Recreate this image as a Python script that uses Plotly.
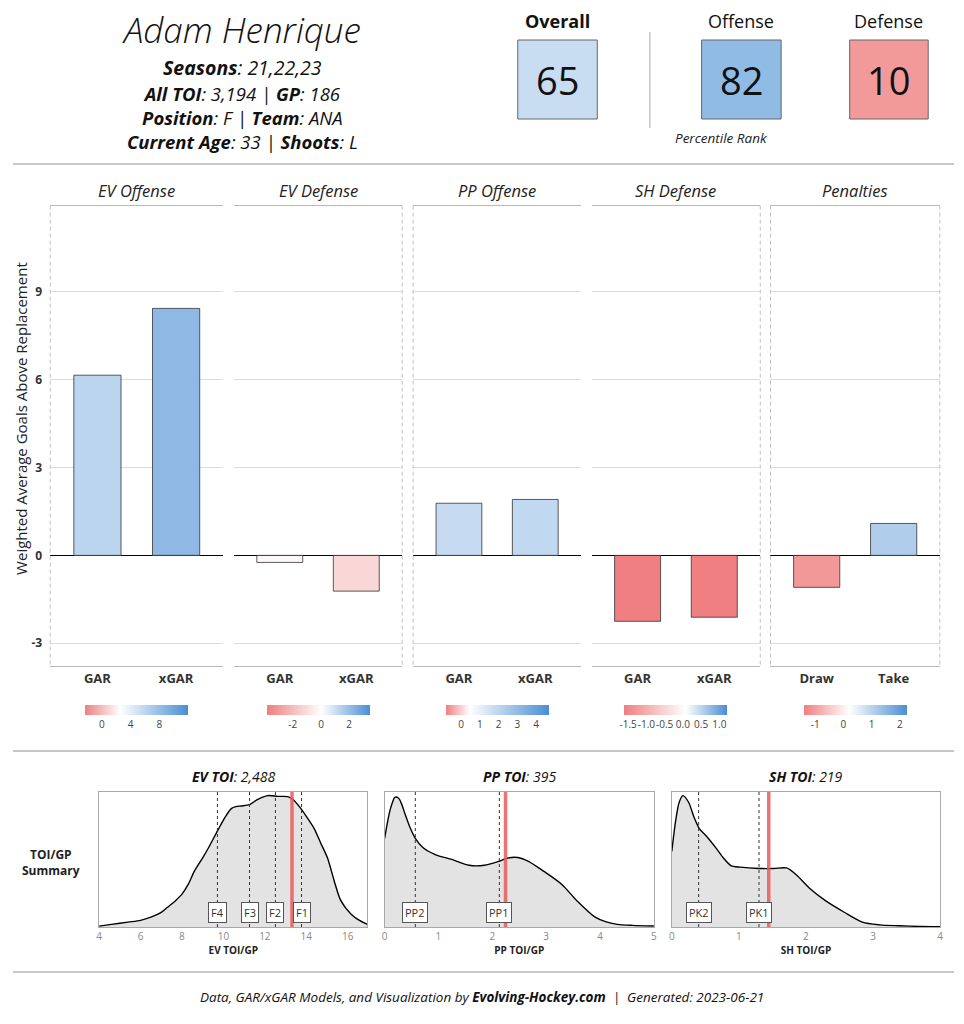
import plotly.graph_objects as go

W, H = 964, 1024
def X(px): return px / W
def Y(py): return 1 - py / H

FONT = "Open Sans"

# ---------------- data ----------------
player = "Adam Henrique"
seasons = "21,22,23"
all_toi = "3,194"
games = "186"
position = "F"
team = "ANA"
age = "33"
shoots = "L"

rank_labels = ["Overall", "Offense", "Defense"]
rank_values = [65, 82, 10]
rank_colors = ["#c8ddf2", "#8fbbe5", "#f29a9a"]

panel_titles = ["EV Offense", "EV Defense", "PP Offense", "SH Defense", "Penalties"]
panel_categories = [["GAR", "xGAR"], ["GAR", "xGAR"], ["GAR", "xGAR"], ["GAR", "xGAR"], ["Draw", "Take"]]
panel_values = [[6.15, 8.43], [-0.24, -1.22], [1.78, 1.91], [-2.25, -2.11], [-1.09, 1.09]]
legend_min = [-2.3, -3.86, -0.83, -1.6, -1.41]
legend_mid = [2.6, 0.0, 0.44, 0.09, 0.2]
legend_max = [12.04, 3.44, 4.67, 1.22, 2.24]
legend_ticks = [[0, 4, 8], [-2, 0, 2], [0, 1, 2, 3, 4], [-1.5, -1.0, -0.5, 0.0, 0.5, 1.0], [-1, 0, 1, 2]]
legend_ticktext = [["0", "4", "8"], ["-2", "0", "2"], ["0", "1", "2", "3", "4"],
                   ["-1.5", "-1.0", "-0.5", "0.0", "0.5", "1.0"], ["-1", "0", "1", "2"]]
gar_ticks = [-3, 0, 3, 6, 9]
gar_ticktext = ["-3", "0", "3", "6", "9"]

toi_titles = [("EV TOI", "2,488"), ("PP TOI", "395"), ("SH TOI", "219")]
toi_axis_titles = ["EV TOI/GP", "PP TOI/GP", "SH TOI/GP"]

ev_x = [4.0, 4.6, 5.4, 6.0, 6.5, 7.0, 7.3, 7.7, 8.0, 8.3, 8.6, 9.0, 9.26, 9.74, 10.1, 10.38, 10.6, 10.86, 11.26,
        11.66, 12.14, 12.62, 13.1, 13.34, 13.74, 14.05, 14.38, 14.7, 15.02, 15.34, 15.66, 16.14, 16.5, 16.95]
ev_d = [0.7, 2.0, 3.7, 5.0, 7.4, 11.0, 14.8, 20.0, 24.7, 32.0, 42.0, 52.0, 59.0, 73.0, 83.0, 89.0, 90.5, 91.0, 92.0,
        96.0, 98.8, 98.2, 98.0, 96.0, 89.0, 82.0, 74.0, 63.0, 52.0, 35.0, 20.0, 10.0, 5.5, 2.0]
ev_lines = [9.71, 11.26, 12.51, 13.77]
ev_line_labels = ["F4", "F3", "F2", "F1"]
ev_player = 13.31

pp_x = [0.0, 0.05, 0.09, 0.14, 0.19, 0.26, 0.32, 0.37, 0.47, 0.57, 0.71, 0.95, 1.23, 1.57, 1.85, 2.12, 2.29,
        2.47, 2.67, 2.95, 3.29, 3.57, 3.91, 4.1, 4.32, 4.6, 5.0]
pp_d = [66.7, 78.0, 86.0, 93.0, 97.5, 96.8, 92.0, 86.0, 75.0, 66.7, 59.8, 54.3, 51.0, 46.4, 46.4, 49.4, 51.9,
        52.3, 49.4, 42.0, 32.0, 19.8, 7.4, 4.0, 2.0, 1.2, 0.7]
pp_lines = [0.57, 2.13]
pp_line_labels = ["PP2", "PP1"]
pp_player = 2.245

sh_x = [0.0, 0.055, 0.11, 0.166, 0.25, 0.33, 0.41, 0.52, 0.66, 0.77, 0.88, 1.02, 1.3, 1.52, 1.71, 1.85, 2.07,
        2.29, 2.57, 2.84, 3.1, 3.39, 3.7, 4.0]
sh_d = [56.8, 79.0, 93.8, 98.8, 93.8, 82.7, 74.0, 68.0, 59.3, 51.9, 46.2, 45.0, 44.0, 44.0, 44.4, 39.5, 28.4,
        19.8, 11.1, 3.7, 1.6, 0.9, 0.4, 0.2]
sh_lines = [0.40, 1.30]
sh_line_labels = ["PK2", "PK1"]
sh_player = 1.445

footer_date = "2023-06-21"

# ---------------- layout constants ----------------
RED = "#ef7f80"
BLUE = "#4a8ed4"
panel_x = [(47.5, 221.7), (232.3, 401.7), (412.7, 581.7), (592.3, 762.0), (772.3, 942.7)]
panel_top, panel_bot = 205.7, 666.0
y_range = [-3.775, 11.935]

dens_x = [(96.7, 366.7), (384.0, 655.0), (673.0, 943.0)]
dens_top, dens_bot = 792.0, 927.0
dens_ranges = [[4, 16.95], [0, 5], [0, 4]]
dens_dticks = [2, 1, 1]

fig = go.Figure()
layout = dict(
    width=W, height=H, margin=dict(l=0, r=0, t=0, b=0),
    paper_bgcolor="white", plot_bgcolor="white",
    showlegend=False, font=dict(family=FONT, color="#222"),
)
shapes = []
annotations = []


def note(text, px, py, size, color="#111", **kw):
    d = dict(text=text, x=X(px), y=Y(py), xref="paper", yref="paper", showarrow=False,
             xanchor="center", yanchor="middle", font=dict(size=size, color=color, family=FONT))
    if "weight" in kw:
        d["font"]["weight"] = kw.pop("weight")
    d.update(kw)
    annotations.append(d)


# ---------------- bar panels ----------------
for i in range(5):
    n = i + 1
    xa = "x" if n == 1 else f"x{n}"
    ya = "y" if n == 1 else f"y{n}"
    cmin, cmax, mid = legend_min[i], legend_max[i], legend_mid[i]
    m = (mid - cmin) / (cmax - cmin)
    cscale = [[0, RED], [m, "#ffffff"], [1, BLUE]]
    x0, x1 = panel_x[i]
    fig.add_trace(go.Bar(
        x=panel_categories[i], y=panel_values[i], width=0.6,
        xaxis=xa, yaxis=ya,
        marker=dict(color=panel_values[i], colorscale=cscale, cmin=cmin, cmax=cmax,
                    line=dict(color="#333333", width=0.8),
                    showscale=True,
                    colorbar=dict(orientation="h", x=X((x0 + x1) / 2), xanchor="center",
                                  y=Y(705), yanchor="top", len=104 / W, lenmode="fraction",
                                  thickness=10, thicknessmode="pixels", outlinewidth=0,
                                  xpad=0, ypad=0, ticks="", tickvals=legend_ticks[i],
                                  ticktext=legend_ticktext[i], tickangle=0,
                                  tickfont=dict(size=10, color="#444", family=FONT))),
        hoverinfo="skip",
    ))
    layout[f"xaxis{'' if n == 1 else n}"] = dict(
        domain=[X(x0), X(x1)], anchor=ya, type="category",
        categoryorder="array", categoryarray=panel_categories[i],
        range=[-0.6, 1.6], showgrid=False, zeroline=False,
        showline=True, mirror=True, linecolor="#b8b8b8", linewidth=1,
        ticks="", tickfont=dict(size=13, color="#333", weight="bold"),
    )
    layout[f"yaxis{'' if n == 1 else n}"] = dict(
        domain=[Y(panel_bot), Y(panel_top)], anchor=xa, range=y_range,
        tickvals=gar_ticks, ticktext=[f"<b>{t}</b>" for t in gar_ticktext], showticklabels=(n == 1),
        tickfont=dict(size=12, color="#333"), ticklabelstandoff=7,
        showgrid=True, gridcolor="#dcdcdc", gridwidth=1,
        zeroline=True, zerolinecolor="#000", zerolinewidth=1.2,
        showline=False, ticks="",
    )
    note(f"<i>{panel_titles[i]}</i>", (x0 + x1) / 2, 190, 16.5, "#222")

# dashed separators
for px in [panel_x[0][0], panel_x[1][1], panel_x[2][0], panel_x[3][1], panel_x[4][0], panel_x[4][1]]:
    shapes.append(dict(type="line", xref="paper", yref="paper", x0=X(px), x1=X(px),
                       y0=Y(panel_top), y1=Y(panel_bot),
                       line=dict(color="#c0c0c0", width=1, dash="4px,3px")))

note("Weighted Average Goals Above Replacement", 18, 418, 15, "#222", textangle=-90)

# ---------------- density panels ----------------
dens_data = [(ev_x, ev_d, ev_lines, ev_line_labels, ev_player),
             (pp_x, pp_d, pp_lines, pp_line_labels, pp_player),
             (sh_x, sh_d, sh_lines, sh_line_labels, sh_player)]
for j in range(3):
    n = 6 + j
    xa, ya = f"x{n}", f"y{n}"
    xs, ds, lines, labels, player_val = dens_data[j]
    x0, x1 = dens_x[j]
    fig.add_trace(go.Scatter(x=xs, y=ds, mode="lines", xaxis=xa, yaxis=ya,
                             line=dict(color="#000", width=1.4, shape="spline", smoothing=0.8),
                             fill="tozeroy", fillcolor="#e3e3e3", hoverinfo="skip"))
    layout[f"xaxis{n}"] = dict(
        domain=[X(x0), X(x1)], anchor=ya, range=dens_ranges[j], dtick=dens_dticks[j],
        showgrid=False, zeroline=False, showline=True, mirror=True,
        linecolor="#a8a8a8", linewidth=1, ticks="",
        tickfont=dict(size=10, color="#888"),
        title=dict(text=toi_axis_titles[j], font=dict(size=10, color="#222", weight="bold"), standoff=2),
    )
    layout[f"yaxis{n}"] = dict(
        domain=[Y(dens_bot), Y(dens_top)], anchor=xa, range=[0, 101.5],
        showgrid=False, zeroline=False, showticklabels=False, showline=True, mirror=True,
        linecolor="#a8a8a8", linewidth=1, ticks="",
    )
    for v in lines:
        shapes.append(dict(type="line", xref=xa, yref=f"{ya} domain", x0=v, x1=v, y0=0, y1=1,
                           line=dict(color="#333", width=1, dash="3px,3px")))
    shapes.append(dict(type="line", xref=xa, yref=f"{ya} domain", x0=player_val, x1=player_val,
                       y0=0, y1=1, line=dict(color="rgba(232,90,92,0.85)", width=3.5)))
    for v, lab in zip(lines, labels):
        annotations.append(dict(text=lab, x=v, y=0.105, xref=xa, yref=f"{ya} domain",
                                xanchor="center", yanchor="middle",
                                showarrow=False, font=dict(size=11, color="#333", family=FONT),
                                bgcolor="white", bordercolor="#555", borderwidth=1, borderpad=2))
    t1, t2 = toi_titles[j]
    note(f"<b><i>{t1}</i></b><i>: {t2}</i>", (x0 + x1) / 2, 776, 14, "#111")

note("<b>TOI/GP<br>Summary</b>", 48, 862, 12, "#222", align="center")

# ---------------- header ----------------
note(f"<i>{player}</i>", 240, 29, 35, "#111", weight=300)
note(f"<b><i>Seasons</i></b><i>: {seasons}</i>", 241, 67, 19.5, "#111")
hdr_block = "<br>".join([
    f"<b><i>All TOI</i></b><i>: {all_toi} | </i><b><i>GP</i></b><i>: {games}</i>",
    f"<b><i>Position</i></b><i>: {position} | </i><b><i>Team</i></b><i>: {team}</i>",
    f"<b><i>Current Age</i></b><i>: {age} | </i><b><i>Shoots</i></b><i>: {shoots}</i>",
])
note(hdr_block, 241, 117, 18.5, "#111", align="center")

box_x = [(518, 598), (703, 783), (852, 931)]
for k in range(3):
    bx0, bx1 = box_x[k]
    shapes.append(dict(type="rect", xref="paper", yref="paper", x0=X(bx0), x1=X(bx1),
                       y0=Y(119), y1=Y(40), fillcolor=rank_colors[k],
                       line=dict(color="#666", width=1)))
    note(str(rank_values[k]), (bx0 + bx1) / 2, 80, 38, "#111")
    lab = f"<b>{rank_labels[k]}</b>" if k == 0 else rank_labels[k]
    note(lab, (bx0 + bx1) / 2, 21, 18, "#111")
note("<i>Percentile Rank</i>", 723, 138, 13.5, "#222")
shapes.append(dict(type="line", xref="paper", yref="paper", x0=X(651), x1=X(651), y0=Y(32), y1=Y(128),
                   line=dict(color="#aaa", width=1)))

# separators
for py in [164, 751, 972]:
    shapes.append(dict(type="line", xref="paper", yref="paper", x0=X(10), x1=X(957), y0=Y(py), y1=Y(py),
                       line=dict(color="#b5b5b5", width=1.5)))

# footer
note(f"<i>Data, GAR/xGAR Models, and Visualization by </i><b><i>Evolving-Hockey.com</i></b><i>  |  Generated: {footer_date}</i>",
     482, 997, 13.5, "#111")

layout["shapes"] = shapes
layout["annotations"] = annotations
fig.update_layout(**layout)
fig.write_html("out.html")
